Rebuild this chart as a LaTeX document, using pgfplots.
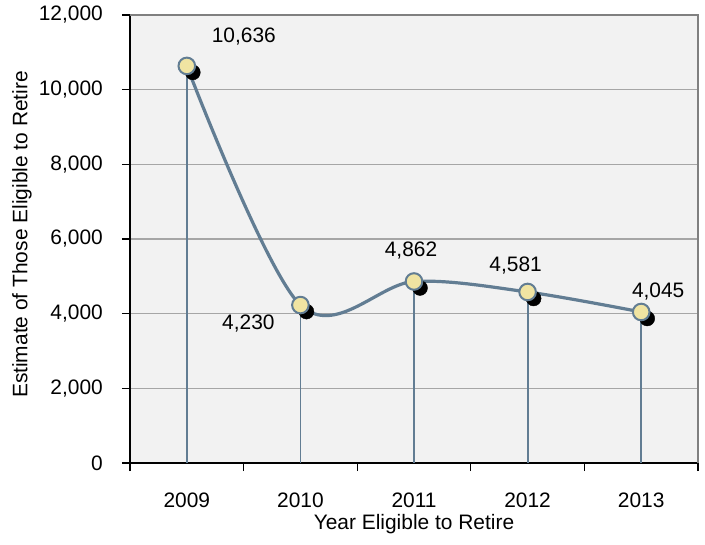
\documentclass[border=0pt]{standalone}
\usepackage{fontspec}
\setmainfont{Liberation Sans}
\usepackage{pgfplots}
\usepackage{pgfplotstable}
\pgfplotsset{compat=1.18}
\definecolor{lineC}{RGB}{98,125,147}
\definecolor{markC}{RGB}{240,228,162}
\definecolor{bgC}{RGB}{242,242,242}
\definecolor{gridC}{RGB}{166,166,166}
\definecolor{frameC}{RGB}{128,128,128}

\pgfplotstableread{
x y lbl dx dy
0 10636 10,636 57 29
1 4230 4,230 -52 -18
2 4862 4,862 -3 31
3 4581 4,581 -12 26
4 4045 4,045 17 20
}\data

\begin{document}
\begin{tikzpicture}[font=\fontsize{21}{25}\selectfont]
\useasboundingbox (-130bp,-82bp) rectangle (575bp,463bp);
\begin{axis}[
  at={(0,0)}, anchor=south west,
  scale only axis, width=568bp, height=448bp,
  clip=false,
  xmin=-0.5, xmax=4.5, ymin=0, ymax=12000,
  axis lines=left,
  axis line style={-, black, line width=1.6bp},
  axis background/.style={fill=bgC},
  xtick={-0.5,0.5,1.5,2.5,3.5,4.5},
  xticklabels={,,,,,},
  extra x ticks={0,1,2,3,4},
  extra x tick labels={2009,2010,2011,2012,2013},
  extra x tick style={major tick length=0pt, xticklabel style={anchor=center, yshift=-37bp}},
  ytick={0,2000,4000,6000,8000,10000,12000},
  scaled y ticks=false,
  yticklabel style={anchor=east, inner sep=0pt, xshift=-19bp},
  tick align=outside,
  tick style={black, line width=1.2bp},
  major tick length=8bp,
  ymajorgrids,
  grid style={gridC, line width=1.5bp},
  /pgf/number format/1000 sep={,},
  /pgf/number format/assume math mode=true,
  every axis y label/.style={at={(axis description cs:-0.19,0.51)}, rotate=90, anchor=center},
  every axis x label/.style={at={(axis description cs:0.5,-0.136)}, anchor=center},
  xlabel={Year Eligible to Retire},
  ylabel={Estimate of Those Eligible to Retire},
]
\addplot[lineC, line width=3.2bp, smooth, tension=0.55, mark=none] table[x=x, y=y] {\data};
\addplot[only marks, mark=*, mark size=7.5bp, black, mark options={xshift=6bp, yshift=-6.5bp}] table[x=x, y=y] {\data};
\addplot[only marks, mark=*, mark size=8.3bp, mark options={fill=markC, draw=lineC, line width=2bp}] table[x=x, y=y] {\data};
\addplot[ycomb, lineC, line width=1.8bp, mark=none] table[x=x, y=y] {\data};
\addplot[draw=none, mark=none, nodes near coords, point meta=explicit symbolic,
  visualization depends on={\thisrow{dx} \as \labdx},
  visualization depends on={\thisrow{dy} \as \labdy},
  every node near coord/.append style={anchor=center, xshift=\labdx bp, yshift=\labdy bp, black}]
  table[x=x, y=y, meta=lbl] {\data};
\draw[frameC, line width=2bp] (rel axis cs:0,1) -- (rel axis cs:1,1) -- (rel axis cs:1,0);
\end{axis}
\end{tikzpicture}
\end{document}
